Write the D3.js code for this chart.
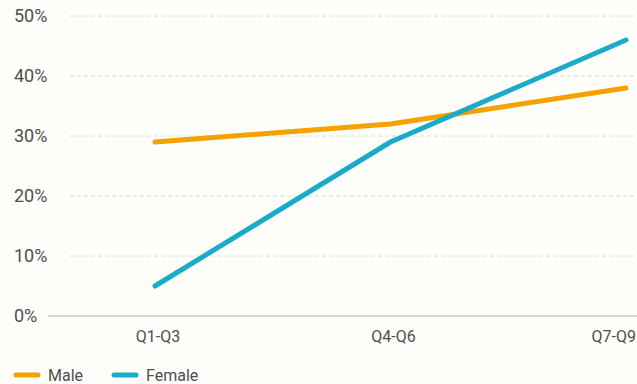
<!DOCTYPE html>
<html>
<head>
<meta charset="utf-8">
<script src="https://cdn.jsdelivr.net/npm/d3@7"></script>
<style>
  html, body { margin: 0; padding: 0; background: #fdfdfa; overflow: hidden; }
  svg { display: block; font-family: Roboto, "Noto Sans", sans-serif; }
</style>
</head>
<body>
<svg id="chart" width="637" height="384"></svg>
<script>
// Share of respondents by period
const periods = ["Q1-Q3", "Q4-Q6", "Q7-Q9"];
const maleValues = [29, 32, 38];
const femaleValues = [5, 29, 46];
const yTicks = [0, 10, 20, 30, 40, 50];
const seriesNames = ["Male", "Female"];
const seriesColors = ["#f5a100", "#1aabc8"];

const svg = d3.select("#chart");

const x = d3.scalePoint().domain(periods).range([155, 626]);
const y = d3.scaleLinear().domain([0, 50]).range([316, 16]);

const textColor = "#4f4f4f";

// Horizontal gridlines
svg.append("g")
  .selectAll("line")
  .data(yTicks.filter(d => d > 0))
  .join("line")
  .attr("x1", 70).attr("x2", 637)
  .attr("y1", d => y(d)).attr("y2", d => y(d))
  .attr("stroke", "#dcdcdc")
  .attr("stroke-width", 1)
  .attr("stroke-dasharray", "4,3");

// Baseline
svg.append("line")
  .attr("x1", 48).attr("x2", 637)
  .attr("y1", y(0)).attr("y2", y(0))
  .attr("stroke", "#c9c9d6")
  .attr("stroke-width", 1.5);

// Y tick labels
svg.append("g")
  .selectAll("text")
  .data(yTicks)
  .join("text")
  .attr("x", 14)
  .attr("y", d => y(d))
  .attr("dy", "0.36em")
  .attr("fill", textColor)
  .attr("font-size", 18)
  .text(d => d + "%");

// X tick labels; the last one is kept inside the right edge
const lastIdx = periods.length - 1;
svg.append("g")
  .selectAll("text")
  .data(periods)
  .join("text")
  .attr("x", (d, i) => i === lastIdx ? 636 : x(d) + 3)
  .attr("y", 342)
  .attr("text-anchor", (d, i) => i === lastIdx ? "end" : "middle")
  .attr("fill", textColor)
  .attr("font-size", 16)
  .text(d => d);

// Lines
const line = d3.line()
  .x((d, i) => x(periods[i]))
  .y(d => y(d));

[maleValues, femaleValues].forEach((vals, i) => {
  svg.append("path")
    .datum(vals)
    .attr("d", line)
    .attr("fill", "none")
    .attr("stroke", seriesColors[i])
    .attr("stroke-width", 5)
    .attr("stroke-linecap", "round")
    .attr("stroke-linejoin", "round");
});

// Legend
const legendX = [16, 114];
const legend = svg.append("g")
  .selectAll("g")
  .data(seriesNames)
  .join("g")
  .attr("transform", (d, i) => `translate(${legendX[i]},375)`);

legend.append("line")
  .attr("x1", 0).attr("x2", 22)
  .attr("stroke", (d, i) => seriesColors[i])
  .attr("stroke-width", 5)
  .attr("stroke-linecap", "round");

legend.append("text")
  .attr("x", 32)
  .attr("dy", "0.36em")
  .attr("fill", textColor)
  .attr("font-size", 16)
  .text(d => d);
</script>
</body>
</html>
